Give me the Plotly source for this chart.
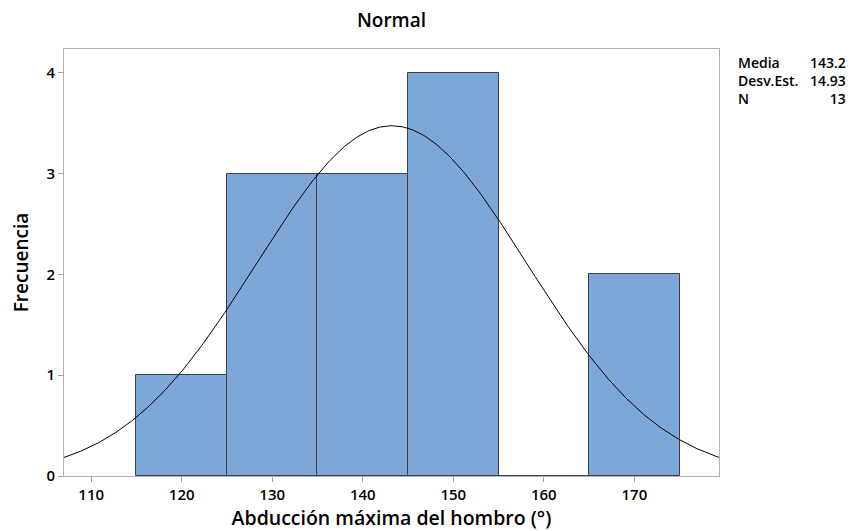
import numpy as np
import plotly.graph_objects as go

bin_left = [115, 125, 135, 145, 155, 165]
bin_width = 10
counts = [1, 3, 3, 4, 0, 2]
mean = 143.2
sd = 14.93
n = 13
x_ticks = [110, 120, 130, 140, 150, 160, 170]
y_ticks = [0, 1, 2, 3, 4]

xr = [107.0, 179.35]
yr = [0, 4.235]

centers = [b + bin_width / 2 for b in bin_left]
xs = np.linspace(xr[0], xr[1], 400)
ys = n * bin_width * np.exp(-0.5 * ((xs - mean) / sd) ** 2) / (sd * np.sqrt(2 * np.pi))

font = "Open Sans"
W, H = 857, 523  # page body has an 8px default margin
ml, mr, mt, mb = 56, 146, 41, 55
ph = H - mt - mb

fig = go.Figure()
fig.add_trace(go.Bar(x=centers, y=counts, width=bin_width,
                     marker=dict(color="#7da7d9", line=dict(color="#404040", width=1)),
                     hoverinfo="skip"))
fig.add_trace(go.Scatter(x=xs, y=ys, mode="lines", line=dict(color="black", width=1),
                         hoverinfo="skip"))

fig.update_layout(
    width=W, height=H,
    margin=dict(l=ml, r=mr, t=mt, b=mb, autoexpand=False),
    paper_bgcolor="white", plot_bgcolor="white",
    showlegend=False, bargap=0,
    font=dict(family=font, color="black", weight=600),
    title=dict(text="Normal", x=0.5, xanchor="center", xref="paper",
               y=1 - 12 / H, yanchor="middle", font=dict(size=19, family=font, weight=600)),
    xaxis=dict(range=xr, tickvals=x_ticks, ticks="outside", ticklen=5, tickcolor="#a0a0a0",
               automargin=False, showgrid=False, zeroline=False, showline=True,
               linecolor="#b0b0b0", mirror=True,
               tickfont=dict(size=15, family=font, weight=600),
               title=dict(text="Abducción máxima del hombro (°)",
                          font=dict(size=19.5, weight=600), standoff=4)),
    yaxis=dict(range=yr, tickvals=y_ticks, ticks="outside", ticklen=5, tickcolor="#a0a0a0",
               automargin=False, showgrid=False, zeroline=False, showline=True,
               linecolor="#b0b0b0", mirror=True,
               tickfont=dict(size=15, family=font, weight=600),
               title=dict(text="Frecuencia", font=dict(size=19, weight=600), standoff=12)),
)

labels = ["Media", "Desv.Est.", "N"]
values = [f"{mean:.1f}", f"{sd:.2f}", f"{n}"]
yc = 1 - (73 - mt) / ph
fig.add_annotation(x=1, xref="paper", xshift=17, y=yc, yref="paper",
                   text="<br>".join(labels), align="left",
                   showarrow=False, xanchor="left", yanchor="middle",
                   font=dict(size=14, weight=600))
fig.add_annotation(x=1, xref="paper", xshift=129, y=yc, yref="paper",
                   text="<br>".join(values), align="right",
                   showarrow=False, xanchor="right", yanchor="middle",
                   font=dict(size=14, weight=600))

fig.write_html("out.html")
